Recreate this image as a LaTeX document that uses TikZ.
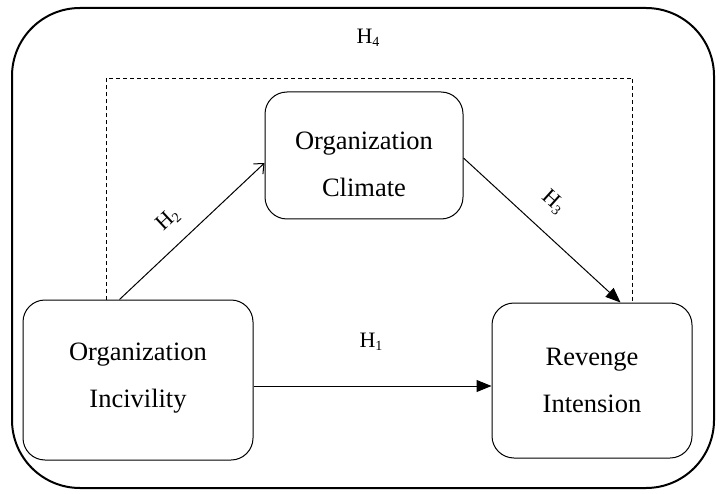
\documentclass[tikz,border=0pt]{standalone}
\usepackage{fontspec}
\setmainfont{Liberation Serif}
\usetikzlibrary{arrows.meta}
\newcommand{\hlab}[1]{H\raisebox{-0.14em}{\fontsize{14}{14}\selectfont #1}}
\tikzset{
  box/.style={draw, line width=1pt, rounded corners=22pt, inner sep=0pt},
  boxtext/.style={align=center, inner sep=0pt, font=\fontsize{26.5}{47}\selectfont},
  lab/.style={font=\fontsize{22}{24}\selectfont, inner sep=0pt},
  filledarrow/.style={line width=1pt, -{Triangle[length=15pt,width=12pt]}},
  openarrow/.style={line width=1pt, -{Straight Barb[length=8pt,width=14pt]}}
}
\begin{document}
\begin{tikzpicture}[x=1pt,y=-1pt]
\useasboundingbox (0,0) rectangle (719,494);
\draw[line width=2pt, rounded corners=68pt] (12,8) rectangle (714,488);

\node[box, minimum width=198pt, minimum height=127pt] (clim) at (364,155.5) {};
\node[box, minimum width=230pt, minimum height=160pt] (inc) at (138,380) {};
\node[box, minimum width=200pt, minimum height=155pt] (rev) at (592,380.5) {};

\node[boxtext] (climt) at ([yshift=-9pt]clim.center) {Organization\\Climate};
\node[boxtext] (inct) at ([yshift=1.5pt]inc.center) {Organization\\Incivility};
\node[boxtext] (revt) at ([yshift=0.5pt]rev.center) {Revenge\\Intension};

% dashed H4 path
\coordinate (d1) at ([xshift=84pt]inc.north west);
\coordinate (d2) at ([xshift=141pt]rev.north west);
\coordinate (dtop) at (0,78);
\draw[dashed, dash pattern=on 4pt off 3pt, line width=0.9pt] (d1) -- (d1 |- dtop) -- (d2 |- dtop) -- (d2);

% H2
\coordinate (h2s) at ([xshift=97pt]inc.north west);
\coordinate (h2e) at ([yshift=-7.5pt]clim.west);
\draw[openarrow] (h2s) -- (h2e);

% H3
\coordinate (h3s) at ([yshift=-2.5pt]clim.east);
\coordinate (h3e) at ([xshift=129pt]rev.north west);
\draw[filledarrow] (h3s) -- (h3e);

% H1
\coordinate (h1s) at ([yshift=-6pt]inc.east);
\draw[filledarrow] (h1s) -- (h1s -| rev.west);

\node[lab] (l4) at (368,38) {\hlab{4}};
\node[lab] (l1) at (371,342) {\hlab{1}};
\node[lab, rotate=43] (l2) at (168,220) {\hlab{2}};
\node[lab, rotate=-42] (l3) at (553,202) {\hlab{3}};
\end{tikzpicture}
\end{document}
